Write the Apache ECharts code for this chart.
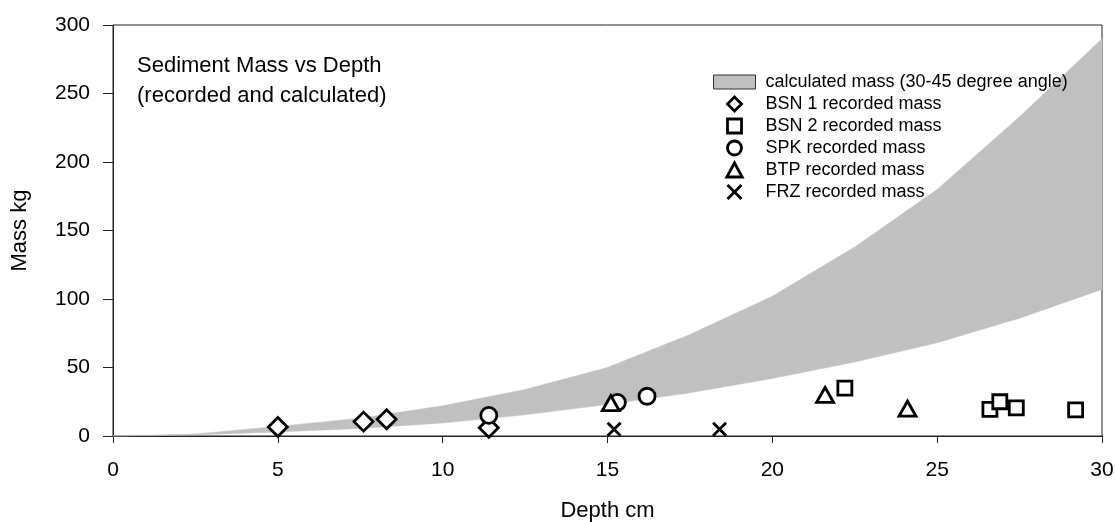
<!DOCTYPE html>
<html>
<head>
<meta charset="utf-8">
<script src="https://cdn.jsdelivr.net/npm/echarts@6/dist/echarts.min.js"></script>
<style>
html,body{margin:0;padding:0;background:#fff;}
#chart{width:1115px;height:522px;}
</style>
</head>
<body>
<div id="chart"></div>
<script>
// Calculated band (30-45 degree angle), read at 2.5 cm steps
var depthGrid = [0, 2.5, 5, 7.5, 10, 12.5, 15, 17.5, 20, 22.5, 25, 27.5, 30];
var calcUpper = [0, 1.5, 7, 13, 22, 34, 50, 74, 102, 138, 180, 233, 290];
var calcLower = [0, 0.8, 3, 5.5, 9.5, 15.5, 23, 31.5, 42, 54, 68, 86, 107];

// Recorded masses [depth cm, mass kg]
var bsn1 = [[5, 6.5], [7.6, 10.5], [8.3, 12.3], [11.4, 6]];
var bsn2 = [[22.2, 35], [26.6, 19.5], [26.9, 25], [27.4, 20.5], [29.2, 19]];
var spk  = [[11.4, 15], [15.3, 24.5], [16.2, 29]];
var btp  = [[15.1, 24], [21.6, 30], [24.1, 20]];
var frz  = [[15.2, 5], [18.4, 5]];

var xTicks = [0, 5, 10, 15, 20, 25, 30];
var yTicks = [0, 50, 100, 150, 200, 250, 300];

var titleText = 'Sediment Mass vs Depth\n(recorded and calculated)';
var bandName = 'calculated mass (30-45 degree angle)';
var names = ['BSN 1 recorded mass', 'BSN 2 recorded mass', 'SPK recorded mass', 'BTP recorded mass', 'FRZ recorded mass'];

var FONT = '"Liberation Sans", Arial, sans-serif';
var crossPath = 'path://M-1 -1 L1 1 M1 -1 L-1 1';
var iconDiamond = 'path://M0 -1.1 L1.1 0 L0 1.1 L-1.1 0 Z';
var iconSquare = 'path://M-1 -1 L1 -1 L1 1 L-1 1 Z';
var iconCircle = 'path://M1 0 A1 1 0 1 1 -1 0 A1 1 0 1 1 1 0 Z';
var iconTriangle = 'path://M0 -1 L1.1 1 L-1.1 1 Z';

var chart = echarts.init(document.getElementById('chart'), null, {renderer: 'canvas'});

function scatter(name, data, symbol, size) {
  return {
    type: 'scatter', name: name, data: data,
    symbol: symbol, symbolSize: size,
    itemStyle: {color: '#ffffff', borderColor: '#000000', borderWidth: 2.8, opacity: 1},
    emphasis: {disabled: true},
    z: 3
  };
}

var option = {
  animation: false,
  backgroundColor: '#ffffff',
  title: {
    text: titleText,
    left: 137, top: 51, padding: 0,
    textStyle: {fontFamily: FONT, fontSize: 22, fontWeight: 'normal', lineHeight: 30, color: '#000'}
  },
  legend: {
    orient: 'vertical',
    left: 713, top: 73, padding: 0,
    itemWidth: 42, itemHeight: 14, itemGap: 4,
    symbolKeepAspect: true,
    selectedMode: false,
    textStyle: {fontFamily: FONT, fontSize: 18, color: '#000', lineHeight: 18, padding: [0, 0, 0, 5]},
    itemStyle: {borderWidth: 2.8},
    data: [
      {name: bandName, icon: 'rect', itemStyle: {color: '#c0c0c0', borderColor: '#333333', borderWidth: 1}},
      {name: names[0], icon: iconDiamond},
      {name: names[1], icon: iconSquare},
      {name: names[2], icon: iconCircle},
      {name: names[3], icon: iconTriangle},
      {name: names[4], icon: crossPath}
    ]
  },
  grid: {
    left: 113, right: 13, top: 25, bottom: 86,
    outerBoundsMode: 'none', containLabel: false,
    show: true, borderColor: '#222', borderWidth: 1, backgroundColor: 'transparent'
  },
  xAxis: {
    type: 'value', min: 0, max: 30, interval: 5,
    name: 'Depth cm', nameLocation: 'middle', nameGap: 64,
    nameTextStyle: {fontFamily: FONT, fontSize: 22, color: '#000'},
    axisLine: {show: true, onZero: false, lineStyle: {color: '#222', width: 1}},
    axisTick: {show: true, inside: false, length: 7, lineStyle: {color: '#222', width: 1}},
    axisLabel: {margin: 24, fontFamily: FONT, fontSize: 21, color: '#000',
      formatter: function (v) { return xTicks.indexOf(v) >= 0 ? String(v) : ''; }},
    splitLine: {show: false}
  },
  yAxis: {
    type: 'value', min: 0, max: 300, interval: 50,
    name: 'Mass kg', nameLocation: 'middle', nameGap: 82, nameRotate: 90,
    nameTextStyle: {fontFamily: FONT, fontSize: 22, color: '#000'},
    axisLine: {show: true, onZero: false, lineStyle: {color: '#222', width: 1}},
    axisTick: {show: true, inside: false, length: 10, lineStyle: {color: '#222', width: 1}},
    axisLabel: {margin: 23, fontFamily: FONT, fontSize: 21, color: '#000',
      formatter: function (v) { return yTicks.indexOf(v) >= 0 ? String(v) : ''; }},
    splitLine: {show: false}
  },
  series: [
    {
      type: 'custom',
      name: bandName,
      coordinateSystem: 'cartesian2d',
      data: depthGrid.map(function (d, i) { return [d, calcLower[i], calcUpper[i]]; }),
      encode: {x: 0, y: [1, 2]},
      itemStyle: {color: '#c0c0c0'},
      z: 1,
      silent: true,
      renderItem: function (params, api) {
        if (params.dataIndex !== 0) return {type: 'group', children: []};
        var pts = [];
        for (var i = 0; i < depthGrid.length; i++) pts.push(api.coord([depthGrid[i], calcUpper[i]]));
        for (var j = depthGrid.length - 1; j >= 0; j--) pts.push(api.coord([depthGrid[j], calcLower[j]]));
        return {type: 'polygon', shape: {points: pts}, style: {fill: '#c0c0c0', stroke: '#c0c0c0', lineWidth: 0.5}};
      }
    },
    scatter(names[0], bsn1, 'diamond', 19),
    scatter(names[1], bsn2, 'rect', 14),
    scatter(names[2], spk, 'circle', 16),
    scatter(names[3], btp, 'triangle', [17, 15]),
    scatter(names[4], frz, crossPath, 13)
  ]
};
chart.setOption(option);
</script>
</body>
</html>
